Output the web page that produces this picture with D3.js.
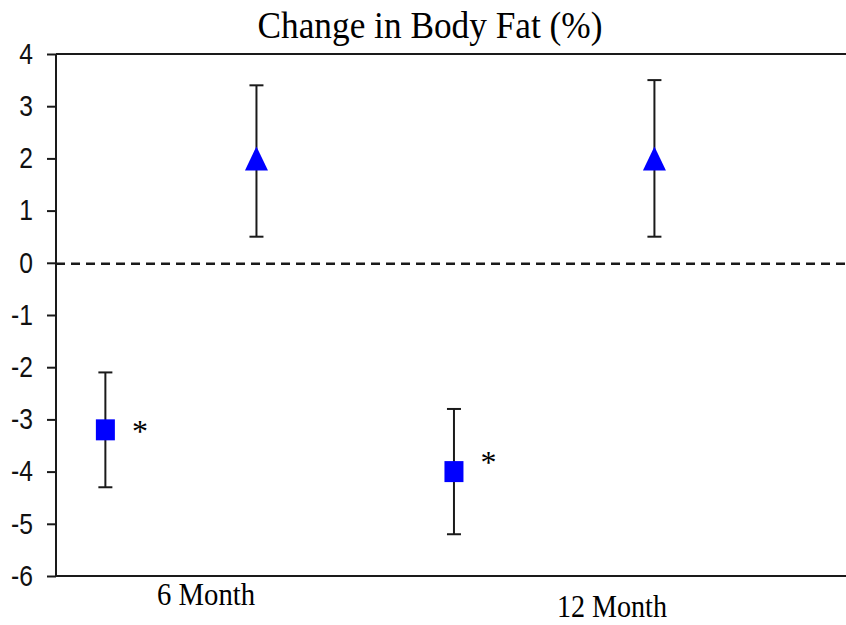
<!DOCTYPE html>
<html>
<head>
<meta charset="utf-8">
<script src="https://cdn.jsdelivr.net/npm/d3@7"></script>
<style>
  html, body { margin: 0; padding: 0; background: #fff; }
  svg { display: block; }
</style>
</head>
<body>
<div id="chart"></div>
<script>
// Change in body fat, mean with error bars, two time points

// Data
const periods = ["6 Month", "12 Month"];
const periodX = [1.52, 5.63];          // where each period label sits on the x axis

const squareX = [0.5, 4.03];
const squareMean = [-3.2, -4.0];
const squareLow = [-4.3, -5.2];
const squareHigh = [-2.1, -2.8];

const triangleX = [2.03, 6.06];
const triangleMean = [2.0, 2.0];
const triangleLow = [0.5, 0.5];
const triangleHigh = [3.4, 3.5];

// significance marks next to the squares
const starX = [0.85, 4.38];
const starY = [-3.13, -3.72];

const yTicks = [4, 3, 2, 1, 0, -1, -2, -3, -4, -5, -6];

const width = 846;
const height = 625;
const margin = { top: 54, right: 0, bottom: 49, left: 56 };

const svg = d3.select("#chart")
    .append("svg")
    .attr("width", width)
    .attr("height", height);

const x = d3.scaleLinear()
    .domain([0, 8])
    .range([margin.left, width - margin.right]);

const y = d3.scaleLinear()
    .domain([-6, 4])
    .range([height - margin.bottom, margin.top]);

const ink = "#1a1a1a";

// Title
svg.append("text")
    .attr("x", 430)
    .attr("y", 38)
    .attr("text-anchor", "middle")
    .attr("font-family", "'Liberation Serif', 'Times New Roman', serif")
    .attr("font-size", 38)
    .attr("textLength", 345)
    .attr("lengthAdjust", "spacingAndGlyphs")
    .attr("fill", "#000")
    .text("Change in Body Fat (%)");

// Y axis
const yAxis = svg.append("g")
    .attr("transform", `translate(${margin.left},0)`)
    .call(d3.axisLeft(y).tickValues(yTicks).tickSize(9).tickPadding(14).tickFormat(d3.format("d")));

yAxis.select(".domain").remove();
yAxis.selectAll(".tick line").attr("stroke", ink).attr("stroke-width", 2);
const labelScale = 0.85;
yAxis.selectAll(".tick text")
    .attr("font-family", "'Liberation Sans', Arial, sans-serif")
    .attr("font-size", 29)
    .attr("fill", "#111")
    .attr("x", -23 / labelScale)
    .attr("transform", `scale(${labelScale},1)`)
    .text(d => d < 0 ? "-" + Math.abs(d) : d);

// Frame: left axis, top border, bottom axis
svg.append("line")
    .attr("x1", margin.left).attr("x2", margin.left)
    .attr("y1", y(4)).attr("y2", y(-6))
    .attr("stroke", ink).attr("stroke-width", 2);

svg.append("line")
    .attr("x1", margin.left).attr("x2", width)
    .attr("y1", y(4)).attr("y2", y(4))
    .attr("stroke", ink).attr("stroke-width", 2);

svg.append("line")
    .attr("x1", margin.left).attr("x2", width)
    .attr("y1", y(-6)).attr("y2", y(-6))
    .attr("stroke", ink).attr("stroke-width", 2);

// Zero reference line
svg.append("line")
    .attr("x1", margin.left).attr("x2", width)
    .attr("y1", y(0) + 1).attr("y2", y(0) + 1)
    .attr("stroke", ink)
    .attr("stroke-width", 2.5)
    .attr("stroke-dasharray", "9,6");

// X labels (Excel staggers them)
svg.append("g")
    .selectAll("text")
    .data(periods)
    .join("text")
    .attr("x", (d, i) => x(periodX[i]))
    .attr("y", (d, i) => y(-6) + 29 + i * 12)
    .attr("text-anchor", "middle")
    .attr("font-family", "'Liberation Serif', 'Times New Roman', serif")
    .attr("font-size", 32)
    .attr("textLength", (d, i) => i === 0 ? 98 : 110)
    .attr("lengthAdjust", "spacingAndGlyphs")
    .attr("fill", "#000")
    .text(d => d);

// Error bars
function errorBars(xs, lows, highs) {
    const g = svg.append("g")
        .attr("stroke", ink)
        .attr("stroke-width", 2);
    const capHalf = 7;
    xs.forEach((xv, i) => {
        g.append("line")
            .attr("x1", x(xv)).attr("x2", x(xv))
            .attr("y1", y(highs[i])).attr("y2", y(lows[i]));
        g.append("line")
            .attr("x1", x(xv) - capHalf).attr("x2", x(xv) + capHalf)
            .attr("y1", y(highs[i])).attr("y2", y(highs[i]));
        g.append("line")
            .attr("x1", x(xv) - capHalf).attr("x2", x(xv) + capHalf)
            .attr("y1", y(lows[i])).attr("y2", y(lows[i]));
    });
}

errorBars(squareX, squareLow, squareHigh);
errorBars(triangleX, triangleLow, triangleHigh);

// Square markers
svg.append("g")
    .selectAll("rect")
    .data(squareMean)
    .join("rect")
    .attr("x", (d, i) => x(squareX[i]) - 9.5)
    .attr("y", d => y(d) - 10.5)
    .attr("width", 19)
    .attr("height", 21)
    .attr("fill", "#0000ff");

// Triangle markers
svg.append("g")
    .selectAll("path")
    .data(triangleMean)
    .join("path")
    .attr("d", (d, i) => {
        const cx = x(triangleX[i]), cy = y(d);
        return `M${cx},${cy - 12}L${cx + 11.5},${cy + 12}L${cx - 11.5},${cy + 12}Z`;
    })
    .attr("fill", "#0000ff");

// Asterisks
svg.append("g")
    .selectAll("text")
    .data(starY)
    .join("text")
    .attr("x", (d, i) => x(starX[i]))
    .attr("y", d => y(d) + 16)
    .attr("text-anchor", "middle")
    .attr("font-family", "'Liberation Serif', 'Times New Roman', serif")
    .attr("font-size", 32)
    .attr("fill", "#000")
    .text("*");
</script>
</body>
</html>
